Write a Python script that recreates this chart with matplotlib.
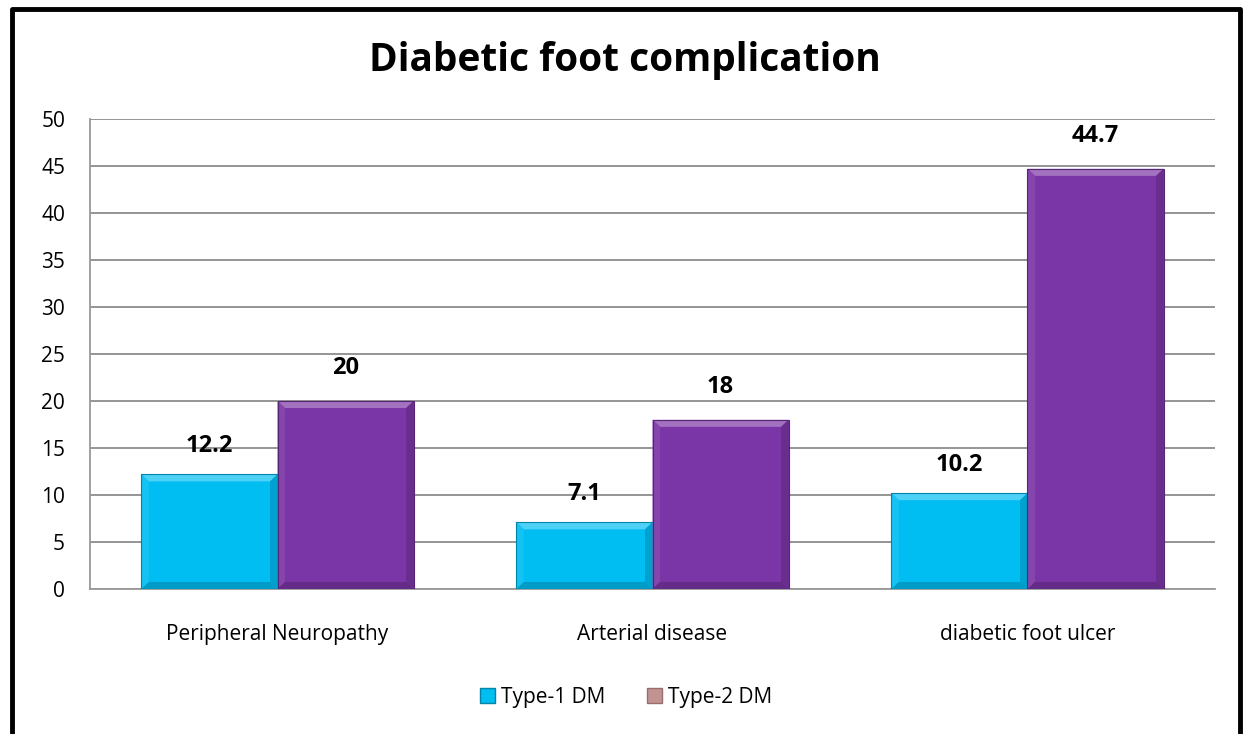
import numpy as np
import matplotlib
matplotlib.use('Agg')
import matplotlib.pyplot as plt
from matplotlib.patches import Polygon, Rectangle, Patch
from matplotlib.colors import to_rgb


# data
categories = ['Peripheral Neuropathy', 'Arterial disease', 'diabetic foot ulcer']
type1 = [12.2, 7.1, 10.2]
type2 = [20, 18, 44.7]
series_names = ['Type-1 DM', 'Type-2 DM']

col1 = '#00BDF2'
col2 = '#7A35A6'

plt.rcParams['font.family'] = ['Open Sans', 'DejaVu Sans']

fig = plt.figure(figsize=(12.45, 7.34), dpi=100)
ax = fig.add_axes([0.0723, 0.1975, 0.9036, 0.6404])

x = np.arange(len(categories))
w = 0.363
b1 = ax.bar(x - w / 2, type1, w, color=col1, zorder=3)
b2 = ax.bar(x + w / 2, type2, w, color=col2, zorder=3)


def shade(c, f):
    r = np.array(to_rgb(c))
    if f > 0:
        return tuple(r + (1 - r) * f)
    return tuple(r * (1 + f))


# bevelled edges on each bar
def bevel(bars, c):
    dx = 0.02
    dy = 0.75
    for b in bars:
        x0, y0 = b.get_x(), b.get_y()
        x1, y1 = x0 + b.get_width(), y0 + b.get_height()
        faces = [
            ([(x0, y1), (x1, y1), (x1 - dx, y1 - dy), (x0 + dx, y1 - dy)], 0.3),
            ([(x0, y0), (x0, y1), (x0 + dx, y1 - dy), (x0 + dx, y0 + dy)], 0.08),
            ([(x1, y0), (x1, y1), (x1 - dx, y1 - dy), (x1 - dx, y0 + dy)], -0.15),
            ([(x0, y0), (x1, y0), (x1 - dx, y0 + dy), (x0 + dx, y0 + dy)], -0.18),
        ]
        for pts, f in faces:
            ax.add_patch(Polygon(pts, closed=True, facecolor=shade(c, f),
                                 edgecolor='none', zorder=4))
        ax.add_patch(Rectangle((x0, y0), x1 - x0, y1 - y0, fill=False,
                               edgecolor=shade(c, -0.3), lw=0.8, zorder=5))


bevel(b1, col1)
bevel(b2, col2)

for bars, vals, off in [(b1, type1, 3.0), (b2, type2, 3.5)]:
    for b, v in zip(bars, vals):
        ax.text(b.get_x() + b.get_width() / 2, v + off, '%g' % v,
                ha='center', va='center', fontsize=17, fontweight='bold',
                color='black', zorder=6)

ax.set_xlim(-0.5, 2.5)
ax.set_ylim(0, 50)
ax.set_yticks(np.arange(0, 51, 5))
ax.set_xticks(x)
ax.set_xticklabels(categories, fontsize=15)
ax.tick_params(axis='y', labelsize=15, length=0, pad=18)
ax.tick_params(axis='x', length=0, pad=25)
ax.grid(axis='y', color='#8c8c8c', lw=1.3, zorder=0)
for s in ['top', 'right']:
    ax.spines[s].set_visible(False)
ax.spines['left'].set_color('#999999')
ax.spines['left'].set_linewidth(1.3)
ax.spines['bottom'].set_color('#999999')
ax.spines['bottom'].set_linewidth(1.3)

fig.text(0.502, 0.918, 'Diabetic foot complication', ha='center', va='center',
         fontsize=28, fontweight='bold')

handles = [Patch(facecolor=col1, edgecolor=shade(col1, -0.3)),
           Patch(facecolor='#C29393', edgecolor='#9a6c6c')]
fig.legend(handles, series_names, loc='center', bbox_to_anchor=(0.503, 0.05),
           ncol=2, frameon=False, fontsize=15, handlelength=0.7,
           handleheight=0.7, handletextpad=0.3, columnspacing=2.0)

# outer frame
fig.add_artist(plt.Line2D([0.0097, 0.0097, 0.996, 0.996], [0, 0.9877, 0.9877, 0],
                          transform=fig.transFigure, color='black', lw=3.5))

fig.savefig('out.png', dpi=100)
